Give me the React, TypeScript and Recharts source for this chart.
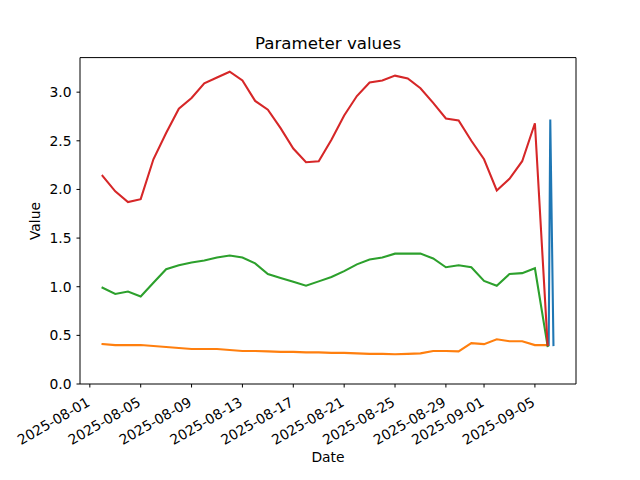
import React from 'react';
import { LineChart, Line, XAxis, YAxis, ReferenceLine } from 'recharts';

// ---- data ----
const dates = [
  '2025-08-02', '2025-08-03', '2025-08-04', '2025-08-05', '2025-08-06', '2025-08-07',
  '2025-08-08', '2025-08-09', '2025-08-10', '2025-08-11', '2025-08-12', '2025-08-13',
  '2025-08-14', '2025-08-15', '2025-08-16', '2025-08-17', '2025-08-18', '2025-08-19',
  '2025-08-20', '2025-08-21', '2025-08-22', '2025-08-23', '2025-08-24', '2025-08-25',
  '2025-08-26', '2025-08-27', '2025-08-28', '2025-08-29', '2025-08-30', '2025-08-31',
  '2025-09-01', '2025-09-02', '2025-09-03', '2025-09-04', '2025-09-05', '2025-09-06',
];
const redValues = [
  2.14, 1.98, 1.87, 1.90, 2.31, 2.58, 2.83, 2.94, 3.09, 3.15,
  3.21, 3.12, 2.91, 2.82, 2.63, 2.42, 2.28, 2.29, 2.51, 2.76,
  2.96, 3.10, 3.12, 3.17, 3.14, 3.04, 2.89, 2.73, 2.71, 2.50,
  2.31, 1.99, 2.11, 2.29, 2.68, 0.40,
];
const greenValues = [
  0.99, 0.925, 0.95, 0.90, 1.04, 1.18, 1.22, 1.25, 1.27, 1.30,
  1.32, 1.30, 1.24, 1.13, 1.09, 1.05, 1.01, 1.055, 1.10, 1.16,
  1.23, 1.28, 1.30, 1.34, 1.34, 1.34, 1.29, 1.20, 1.22, 1.20,
  1.06, 1.01, 1.13, 1.14, 1.19, 0.39,
];
const orangeValues = [
  0.41, 0.40, 0.40, 0.40, 0.39, 0.38, 0.37, 0.36, 0.36, 0.36,
  0.35, 0.34, 0.34, 0.335, 0.33, 0.33, 0.325, 0.325, 0.32, 0.32,
  0.315, 0.31, 0.31, 0.305, 0.31, 0.315, 0.34, 0.34, 0.335, 0.42,
  0.41, 0.46, 0.44, 0.44, 0.40, 0.40,
];
const blueDates = ['2025-09-06T02:00', '2025-09-06T05:00', '2025-09-06T11:00'];
const blueValues = [0.40, 2.72, 0.40];

const tickDates = [
  '2025-08-01', '2025-08-05', '2025-08-09', '2025-08-13', '2025-08-17', '2025-08-21',
  '2025-08-25', '2025-08-29', '2025-09-01', '2025-09-05',
];
const yTicks = [0, 0.5, 1.0, 1.5, 2.0, 2.5, 3.0];

// ---- helpers ----
const ORIGIN = Date.parse('2025-08-01T00:00:00Z');
const toDay = (s: string) =>
  (Date.parse((s.includes('T') ? s : s + 'T00:00') + ':00Z') - ORIGIN) / 86400000;

const mk = (ds: string[], vs: number[]) => ds.map((d, i) => ({ x: toDay(d), y: vs[i] }));
const redData = mk(dates, redValues);
const greenData = mk(dates, greenValues);
const orangeData = mk(dates, orangeValues);
const blueData = mk(blueDates, blueValues);

const allX = [...redData, ...blueData].map((p) => p.x);
const xMin = Math.min(...allX);
const xMax = Math.max(...allX);
const xPad = (xMax - xMin) * 0.05;
const xDomain: [number, number] = [xMin - xPad, xMax + xPad];

const allY = [...redValues, ...greenValues, ...orangeValues, ...blueValues];
const yMinD = Math.min(...allY);
const yMaxD = Math.max(...allY);
const yDomain: [number, number] = [0, yMaxD + (yMaxD - yMinD) * 0.05];

const tickDays = tickDates.map(toDay);

const FONT = 'DejaVu Sans, sans-serif';
const TICK_FS = 13.89;

const XTick = (props: any) => {
  const { x, y, payload } = props;
  const idx = tickDays.findIndex((d) => Math.abs(d - payload.value) < 1e-6);
  const label = idx >= 0 ? tickDates[idx] : '';
  const tx = x + 1;
  const ty = y + 15.5;
  return (
    <text
      x={tx}
      y={ty}
      transform={`rotate(-30 ${tx} ${ty})`}
      textAnchor="end"
      fontSize={TICK_FS}
      fontFamily={FONT}
      fill="#000"
    >
      {label}
    </text>
  );
};

const YTick = (props: any) => {
  const { x, y, payload } = props;
  return (
    <text
      x={x - 3}
      y={y}
      dy={5}
      textAnchor="end"
      fontSize={TICK_FS}
      fontFamily={FONT}
      fill="#000"
    >
      {Number(payload.value).toFixed(1)}
    </text>
  );
};

const LW = 2.08;

export default function App() {
  return (
    <div style={{ position: 'absolute', left: 0, top: 0, width: 640, height: 480, background: '#fff' }}>
      <LineChart
        width={640}
        height={480}
        margin={{ top: 57.6, right: 64, bottom: 0, left: 0 }}
      >
        <XAxis
          xAxisId="b"
          dataKey="x"
          type="number"
          scale="linear"
          domain={xDomain}
          allowDataOverflow
          ticks={tickDays}
          interval={0}
          height={96}
          tick={<XTick />}
          tickSize={3.5}
          tickLine={{ stroke: '#000', strokeWidth: 1 }}
          axisLine={{ stroke: '#000', strokeWidth: 1 }}
        />
        <YAxis
          yAxisId="l"
          type="number"
          domain={yDomain}
          allowDataOverflow
          ticks={yTicks}
          interval={0}
          width={80}
          tick={<YTick />}
          tickSize={3.5}
          tickLine={{ stroke: '#000', strokeWidth: 1 }}
          axisLine={{ stroke: '#000', strokeWidth: 1 }}
        />
        <ReferenceLine xAxisId="b" yAxisId="l" y={yDomain[1]} stroke="#000" strokeWidth={1} ifOverflow="visible" />
        <ReferenceLine xAxisId="b" yAxisId="l" x={xDomain[1]} stroke="#000" strokeWidth={1} ifOverflow="visible" />
        <Line xAxisId="b" yAxisId="l" data={blueData} dataKey="y" type="linear" stroke="#1f77b4" strokeWidth={LW} dot={false} isAnimationActive={false} strokeLinecap="square" />
        <Line xAxisId="b" yAxisId="l" data={orangeData} dataKey="y" type="linear" stroke="#ff7f0e" strokeWidth={LW} dot={false} isAnimationActive={false} strokeLinecap="square" />
        <Line xAxisId="b" yAxisId="l" data={greenData} dataKey="y" type="linear" stroke="#2ca02c" strokeWidth={LW} dot={false} isAnimationActive={false} strokeLinecap="square" />
        <Line xAxisId="b" yAxisId="l" data={redData} dataKey="y" type="linear" stroke="#d62728" strokeWidth={LW} dot={false} isAnimationActive={false} strokeLinecap="square" />
        <text x={328} y={49} textAnchor="middle" fontSize={16.67} fontFamily={FONT} fill="#000">
          Parameter values
        </text>
        <text x={328} y={462} textAnchor="middle" fontSize={TICK_FS} fontFamily={FONT} fill="#000">
          Date
        </text>
        <text
          x={39.5}
          y={221}
          transform="rotate(-90 39.5 221)"
          textAnchor="middle"
          fontSize={TICK_FS}
          fontFamily={FONT}
          fill="#000"
        >
          Value
        </text>
      </LineChart>
    </div>
  );
}
